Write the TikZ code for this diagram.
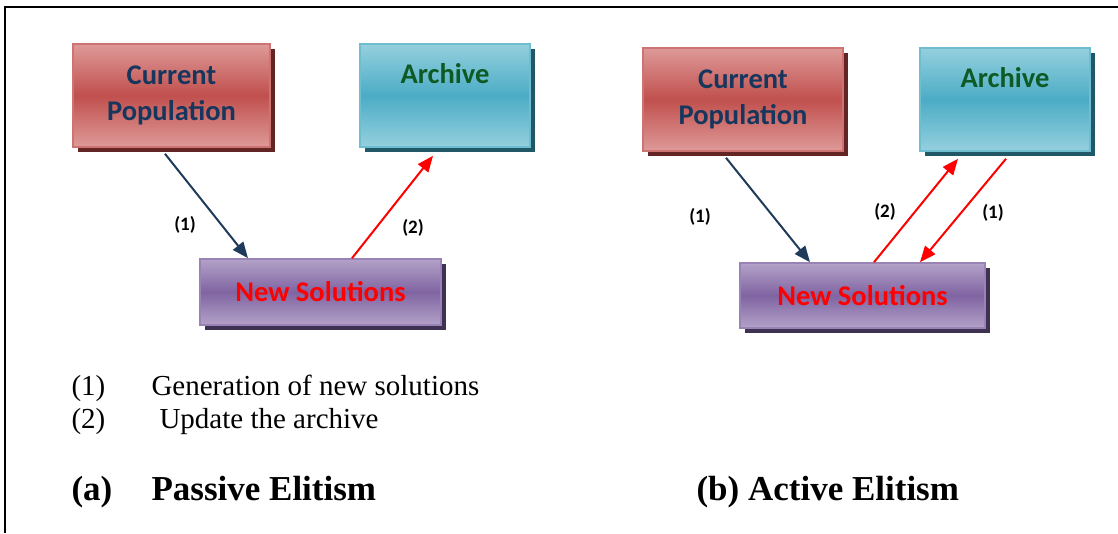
\documentclass[tikz,border=0pt]{standalone}
\usepackage{fontspec}
\setmainfont{Liberation Serif}
\newfontfamily\boxfont{Carlito}
\usetikzlibrary{calc,arrows.meta,shadows}
\definecolor{redlight}{HTML}{DE9A99}
\definecolor{redmid}{HTML}{C0504D}
\definecolor{redshadow}{HTML}{632523}
\definecolor{bluelight}{HTML}{95D0DE}
\definecolor{bluemid}{HTML}{4BACC6}
\definecolor{blueshadow}{HTML}{205867}
\definecolor{purplelight}{HTML}{B3A2C8}
\definecolor{purplemid}{HTML}{8064A2}
\definecolor{purpleshadow}{HTML}{3F3151}
\definecolor{navytext}{HTML}{17365D}
\definecolor{greentext}{HTML}{0E5A24}
\definecolor{navyarrow}{HTML}{1F3B5C}
\tikzset{
  box/.style={rectangle, line width=1.6pt, align=center,
    font=\boxfont\bfseries\fontsize{28.5}{36}\selectfont},
  redbox/.style={box, draw=redmid!80!white, top color=redlight, bottom color=redlight, middle color=redmid,
    text=navytext, drop shadow={shadow xshift=5pt, shadow yshift=-5pt, fill=redshadow, opacity=1}},
  bluebox/.style={box, draw=bluemid!80!white, top color=bluelight, bottom color=bluelight, middle color=bluemid,
    text=greentext, drop shadow={shadow xshift=5pt, shadow yshift=-5pt, fill=blueshadow, opacity=1}},
  purplebox/.style={box, draw=purplemid!80!white, top color=purplelight, bottom color=purplelight, middle color=purplemid,
    text=red, drop shadow={shadow xshift=5pt, shadow yshift=-5pt, fill=purpleshadow, opacity=1}},
  navyflow/.style={draw=navyarrow, line width=2pt, -{Triangle[length=16pt,width=13pt]}},
  redflow/.style={draw=red, line width=2pt, -{Triangle[length=16pt,width=13pt]}},
  steplabel/.style={font=\boxfont\bfseries\fontsize{19}{22}\selectfont},
  legend/.style={anchor=base west, font=\fontsize{29}{32}\selectfont},
  caption/.style={anchor=base west, font=\bfseries\fontsize{35}{38}\selectfont}
}
\begin{document}
\begin{tikzpicture}[x=1pt, y=-1pt]
\useasboundingbox (0,0) rectangle (1118,533);
% frame
\draw[line width=1.5pt] (5,533) -- (5,7) -- (1118,7);

% (a) passive elitism
\node[redbox, minimum width=197pt, minimum height=103pt] (lcp) at (171.5,95.5) {Current\\Population};
\node[bluebox, minimum width=170pt, minimum height=103pt] (la) at (445,95.5) {Archive\\[8pt]\mbox{}};
\node[purplebox, minimum width=241pt, minimum height=66pt] (lns) at (320.5,292) {New Solutions};

\draw[navyflow] ($(lcp.south)+(-6.5,6)$) -- ($(lns.north)+(-72.5,0)$);
\draw[redflow] ($(lns.north)+(31.5,0)$) -- ($(la.south)+(-12,8)$);
\node[steplabel] (la1) at (185,225) {(1)};
\node[steplabel] (la2) at (413,228) {(2)};

% (b) active elitism
\node[redbox, minimum width=200pt, minimum height=103pt] (rcp) at (743,99.5) {Current\\Population};
\node[bluebox, minimum width=170pt, minimum height=103pt] (ra) at (1005,99.5) {Archive\\[8pt]\mbox{}};
\node[purplebox, minimum width=245pt, minimum height=65pt] (rns) at (862.5,295.5) {New Solutions};

\draw[navyflow] ($(rcp.south)+(-17,6)$) -- ($(rns.north)+(-52.5,0)$);
\draw[redflow] ($(rns.north)+(11.5,0)$) -- ($(ra.south)+(-47,7)$);
\draw[redflow] ($(ra.south)+(1,7)$) -- ($(rns.north)+(57.5,0)$);
\node[steplabel] (rb1) at (700,217) {(1)};
\node[steplabel] (rb2) at (885,212) {(2)};
\node[steplabel] (rb3) at (993,213) {(1)};

% legend
\node[legend] (g1) at (68,395) {(1)};
\node[legend] (g1t) at (148,395) {Generation of new solutions};
\node[legend] (g2) at (68,428) {(2)};
\node[legend] (g2t) at (156,428) {Update the archive};

% captions
\node[caption] (ca) at (68,500) {(a)};
\node[caption] (cat) at (148,500) {Passive Elitism};
\node[caption] (cb) at (693,500) {(b) Active Elitism};
\end{tikzpicture}
\end{document}
